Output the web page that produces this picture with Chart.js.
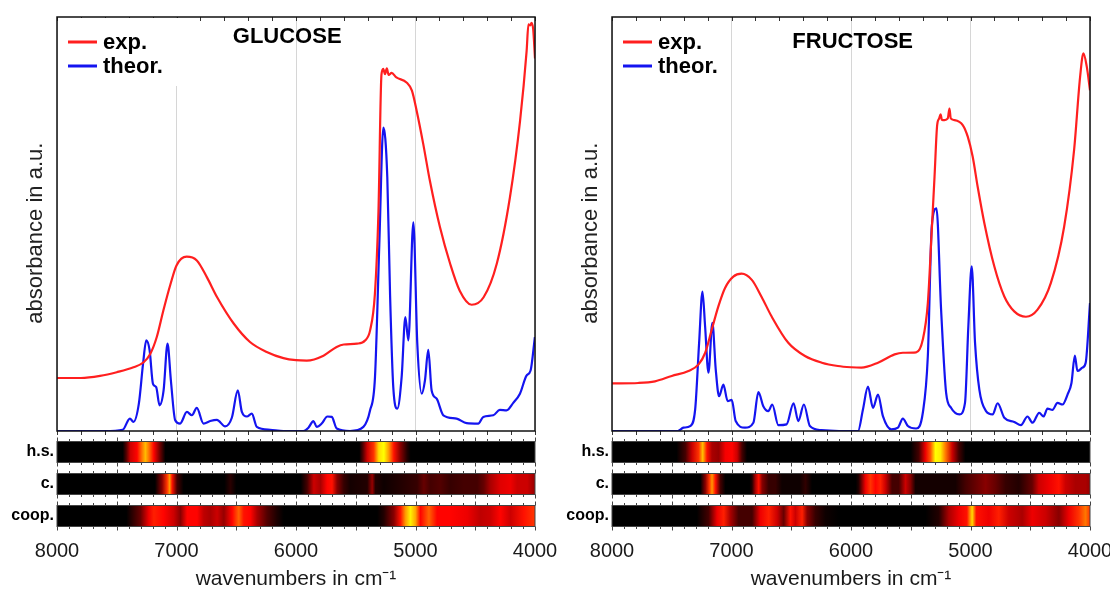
<!DOCTYPE html>
<html>
<head>
<meta charset="utf-8">
<script src="https://cdn.jsdelivr.net/npm/chart.js@4.4.0/dist/chart.umd.min.js"></script>
<style>
  body { margin: 0; background: #fff; width: 1110px; height: 594px; position: relative; overflow: hidden; }
  canvas { position: absolute; }
</style>
</head>
<body>
<canvas id="gluMain" width="545" height="440" style="left:0px;top:0px"></canvas>
<canvas id="gluHeat" width="562" height="159" style="left:0px;top:435px"></canvas>
<canvas id="fruMain" width="545" height="440" style="left:555px;top:0px"></canvas>
<canvas id="fruHeat" width="555" height="159" style="left:555px;top:435px"></canvas>
<script>
// ---- spectra (wavenumber in cm-1, absorbance in a.u.) ----
const gluExpWn  = [8000,7800,7640,7500,7360,7275,7220,7165,7110,7050,7000,6915,6830,6745,6660,6520,6385,6245,6105,6000,5910,5770,5660,5600,5490,5420,5380,5340,5310,5285,5270,5255,5240,5225,5200,5160,5075,5030,4990,4935,4880,4795,4710,4630,4530,4430,4320,4210,4125,4070,4055,4040,4029,4015,4000];
const gluExpAbs = [12.8,12.8,13.3,14.2,15.4,16.6,18.6,22.7,29.1,35.5,40,42.1,41.2,37.1,32.3,25.9,21.5,19.1,17.6,17.1,17.0,18.2,20.3,20.9,21.1,21.9,24.3,33,53,86,87.5,86.2,87.6,86,86.5,85.4,84.2,82.2,77.3,69.3,60.5,49.2,40.4,33.9,30.5,32.3,40.4,56.4,74.9,91.8,98.2,98,98.6,97,90];

const gluThWn  = [8000,7600,7450,7390,7360,7315,7280,7253,7225,7197,7170,7142,7108,7075,7047,7011,6970,6913,6871,6830,6774,6718,6662,6593,6537,6487,6453,6411,6370,6328,6216,6105,5938,5896,5854,5827,5785,5737,5701,5659,5548,5436,5380,5339,5303,5269,5236,5213,5186,5152,5116,5085,5060,5018,4985,4948,4921,4893,4865,4823,4767,4656,4572,4475,4433,4349,4294,4238,4182,4126,4071,4037,4001];
const gluThAbs = [0,0,0.3,3.0,2.2,6.6,16.2,21.9,19.5,11.4,10.6,6.2,9.8,21.1,12.2,2.6,1.8,4.6,3.8,5.6,1.8,2.4,2.7,1.1,3.2,9.8,4.6,3.5,4.2,1.0,0.3,0,0,0.8,2.4,1.0,1.8,3.5,3.4,0.6,0,1.0,5.0,13,45,73.3,61.3,33.1,10.6,5.4,13,27.5,21.9,50.4,21.1,9.0,12.2,19.6,9.8,7.8,3.8,3.0,1.9,1.8,3.4,3.8,5.1,5.0,6.8,9.0,13.4,14.6,22.7];

const fruExpWn  = [8000,7780,7640,7500,7360,7275,7220,7165,7110,7055,6985,6915,6830,6750,6665,6525,6385,6245,6110,6000,5913,5774,5635,5566,5455,5399,5357,5324,5301,5279,5262,5250,5240,5218,5190,5176,5165,5135,5065,5023,4982,4940,4884,4801,4717,4634,4536,4439,4328,4216,4133,4083,4055,4027,4000];
const fruExpAbs = [11.5,11.6,12.0,13.3,14.5,16.1,18.9,24.5,30.1,34.5,37.3,38.0,36.5,32.5,27.7,21.3,18.1,16.5,15.7,15.4,15.3,16.5,18.5,18.9,19.0,22.1,30.9,48.6,61.4,73.9,75.5,76.5,75.2,75.1,75.5,77.9,75.5,75.1,73.9,71.1,66.3,59.0,50.2,39.8,32.5,28.9,27.6,29.3,35.7,49.4,67.9,85.5,91.2,88,82.3];

const fruThWn  = [8000,7450,7402,7346,7304,7271,7243,7221,7193,7160,7132,7104,7068,7032,6998,6965,6887,6817,6775,6734,6692,6659,6608,6539,6481,6441,6394,6344,6247,6100,5941,5900,5858,5816,5774,5733,5663,5607,5566,5524,5455,5399,5357,5324,5285,5246,5204,5163,5093,5046,5018,4990,4962,4926,4870,4815,4773,4717,4634,4578,4523,4481,4425,4389,4356,4314,4272,4230,4188,4155,4127,4105,4064,4036,4000];
const fruThAbs = [0,0,0.8,1.2,5.2,21.3,33.7,25.3,14.1,26.1,14.9,8.4,11.2,7.2,7.5,2.4,0.8,2.0,9.4,6.0,4.8,6.4,1.4,1.6,6.7,2.4,6.4,1.2,0.2,0,0,5.2,10.7,5.6,8.8,3.6,0.4,0.8,3.0,1.2,0.6,4.4,18.1,49.4,53.8,29.3,9.2,5.6,4.0,6.8,25.3,39.8,21.3,10,4.8,4.0,6.7,3.2,2.2,1.4,3.5,2.0,4.4,3.5,5.4,5.1,6.8,6.4,8.8,11.6,18.2,14.5,15.3,16.5,30.9];

// ---- contribution strips (relative intensity 0..1) ----
const stripLabels = ['h.s.', 'c.', 'coop.'];
const stripRange = [4000, 8000];

const gluHsWn  = [8000,7450,7420,7386,7330,7288,7260,7232,7190,7135,7093,5470,5440,5404,5349,5307,5265,5223,5181,5126,5070,5040,4000];
const gluHsVal = [0,0,0.12,0.3,0.38,0.55,0.65,0.55,0.38,0.15,0,0,0.12,0.3,0.45,0.7,0.75,0.6,0.4,0.2,0.05,0,0];
const gluCWn   = [8000,7180,7121,7079,7057,7037,6995,6940,6600,6549,6500,5960,5907,5851,5795,5740,5698,5656,5600,5544,5404,5362,5335,5265,4986,4930,4874,4791,4707,4595,4484,4428,4372,4289,4205,4149,4065,4000];
const gluCVal  = [0,0,0.2,0.45,0.6,0.4,0.1,0,0,0.06,0,0,0.1,0.3,0.25,0.38,0.4,0.2,0.08,0.03,0.05,0.22,0.05,0.02,0.08,0.15,0.1,0.12,0.08,0.1,0.1,0.15,0.25,0.33,0.35,0.3,0.3,0.22];
const gluCoWn  = [8000,7420,7302,7232,7190,7107,7023,6967,6911,6828,6772,6716,6660,6604,6535,6479,6437,6381,6325,6242,6158,6102,5321,5265,5181,5126,5084,5042,5000,4958,4888,4819,4707,4567,4456,4372,4289,4205,4093,4009,4000];
const gluCoVal = [0,0,0.15,0.35,0.42,0.38,0.3,0.2,0.38,0.38,0.28,0.25,0.3,0.22,0.38,0.52,0.4,0.38,0.25,0.12,0.04,0,0,0.05,0.2,0.4,0.6,0.73,0.62,0.38,0.52,0.38,0.38,0.35,0.28,0.3,0.38,0.3,0.4,0.45,0.45];

const fruHsWn  = [8000,7460,7386,7330,7274,7241,7205,7163,7107,7051,6995,6953,6912,6870,5500,5432,5377,5335,5293,5251,5209,5153,5098,5042,4000];
const fruHsVal = [0,0,0.1,0.3,0.45,0.66,0.4,0.25,0.22,0.36,0.38,0.3,0.1,0,0,0.1,0.35,0.5,0.75,0.72,0.55,0.3,0.1,0,0];
const fruCWn   = [8000,7260,7219,7185,7163,7135,7093,7051,6850,6828,6800,6772,6744,6688,6632,6577,6430,6381,6325,5960,5935,5879,5837,5795,5754,5712,5656,5600,5544,5502,5460,5126,5042,4958,4874,4791,4707,4595,4484,4428,4344,4260,4205,4121,4037,4000];
const fruCVal  = [0,0,0.2,0.45,0.6,0.4,0.1,0,0,0.05,0.25,0.4,0.2,0.08,0.08,0.02,0.02,0.07,0,0,0.05,0.35,0.45,0.38,0.42,0.3,0.1,0.1,0.3,0.2,0.03,0.03,0.1,0.15,0.2,0.15,0.08,0.05,0.15,0.3,0.35,0.4,0.3,0.25,0.25,0.22];
const fruCoWn  = [8000,7290,7191,7121,7065,7009,6940,6828,6758,6688,6618,6563,6507,6465,6409,6367,6298,6214,6102,5377,5265,5181,5098,5030,4986,4952,4846,4763,4679,4567,4484,4372,4260,4177,4093,4037,4000];
const fruCoVal = [0,0,0.1,0.35,0.42,0.25,0.1,0.1,0.35,0.42,0.3,0.15,0.4,0.3,0.42,0.2,0.08,0.02,0,0,0.05,0.25,0.35,0.4,0.7,0.4,0.35,0.42,0.3,0.25,0.35,0.3,0.2,0.35,0.45,0.55,0.45];

const FONT = '"Liberation Sans", Arial, sans-serif';
Chart.defaults.font.family = FONT;

function pairs(xs, ys) {
    return xs.map((x, i) => ({ x: x, y: ys[i] }));
}

// matlab-like "hot" colour map
function hot(v) {
    const r = Math.min(1, v / 0.375);
    const g = Math.min(1, Math.max(0, (v - 0.375) / 0.375));
    const b = Math.min(1, Math.max(0, (v - 0.75) / 0.25));
    return `rgb(${Math.round(r * 255)},${Math.round(g * 255)},${Math.round(b * 255)})`;
}

// box around the plot with small ticks every 200 cm-1
const framePlugin = {
    id: 'frame',
    afterDraw(chart) {
        const { ctx, chartArea: a, scales: { x } } = chart;
        ctx.save();
        ctx.strokeStyle = '#333';
        ctx.lineWidth = 1;
        for (let wn = 4000; wn <= 8000; wn += 200) {
            const px = Math.round(x.getPixelForValue(wn)) + 0.5;
            ctx.beginPath();
            ctx.moveTo(px, a.top); ctx.lineTo(px, a.top + 4);
            ctx.moveTo(px, a.bottom); ctx.lineTo(px, a.bottom + 4);
            ctx.stroke();
        }
        ctx.strokeStyle = '#111';
        ctx.lineWidth = 1.5;
        ctx.strokeRect(a.left, a.top, a.right - a.left, a.bottom - a.top);
        ctx.restore();
    }
};

// legend + sugar name drawn inside the plot box
const insidePlugin = {
    id: 'inside',
    afterDraw(chart, args, opts) {
        const { ctx, chartArea: a, scales: { x } } = chart;
        ctx.save();
        if (opts.legendBg) {
            ctx.fillStyle = '#fff';
            ctx.fillRect(a.left + 1, a.top + 1, 125, 68);
        }
        ctx.font = `bold 22px ${FONT}`;
        ctx.textBaseline = 'middle';
        chart.data.datasets.forEach((ds, i) => {
            const y = a.top + 25 + i * 24;
            ctx.strokeStyle = ds.borderColor;
            ctx.lineWidth = 3;
            ctx.beginPath();
            ctx.moveTo(a.left + 11, y);
            ctx.lineTo(a.left + 40, y);
            ctx.stroke();
            ctx.fillStyle = '#000';
            ctx.textAlign = 'left';
            ctx.fillText(ds.label, a.left + 46, y + 1);
        });
        ctx.textAlign = 'center';
        ctx.fillText(opts.name, x.getPixelForValue(opts.nameWn), a.top + opts.nameDy);
        ctx.restore();
    }
};

// little ticks along the top and bottom edge of every strip
const stripPlugin = {
    id: 'stripTicks',
    afterDatasetsDraw(chart) {
        const { ctx, scales: { x } } = chart;
        const meta = chart.getDatasetMeta(0);
        ctx.save();
        ctx.strokeStyle = '#444';
        ctx.lineWidth = 1;
        meta.data.forEach(bar => {
            const { y, height } = bar.getProps(['y', 'height'], true);
            const top = y - height / 2, bottom = y + height / 2;
            for (let wn = 4000; wn <= 8000; wn += 100) {
                const len = wn % 500 === 0 ? 4 : 2.5;
                const px = Math.round(x.getPixelForValue(wn)) + 0.5;
                ctx.beginPath();
                ctx.moveTo(px, top); ctx.lineTo(px, top - len);
                ctx.moveTo(px, bottom); ctx.lineTo(px, bottom + len);
                ctx.stroke();
            }
            ctx.strokeRect(x.left, top, x.right - x.left, height);
        });
        ctx.restore();
    }
};

// fixed axis boxes so both charts of a panel share the same x pixels
function fixX(h) {
    return s => { s.height = h; s.paddingLeft = 0; s.paddingRight = 0; };
}
function fixY(w) {
    return s => { s.width = w; s.paddingTop = 0; s.paddingBottom = 0; };
}

function mainChart(id, name, nameWn, nameDy, legendBg, expWn, expAbs, thWn, thAbs) {
    return new Chart(document.getElementById(id), {
        type: 'line',
        data: {
            datasets: [
                { label: 'exp.', data: pairs(expWn, expAbs), borderColor: '#ff1f1f', borderWidth: 2.2, pointRadius: 0, cubicInterpolationMode: 'monotone' },
                { label: 'theor.', data: pairs(thWn, thAbs), borderColor: '#1414f0', borderWidth: 2.2, pointRadius: 0, cubicInterpolationMode: 'monotone' }
            ]
        },
        options: {
            responsive: false,
            animation: false,
            events: [],
            layout: { autoPadding: false, padding: { top: 17, right: 10, bottom: 9, left: 0 } },
            scales: {
                x: {
                    type: 'linear', min: 4000, max: 8000, reverse: true,
                    afterFit: fixX(0),
                    ticks: { display: false, stepSize: 1000 },
                    grid: { color: '#d6d6d6', drawTicks: false },
                    border: { display: false }
                },
                y: {
                    min: 0, max: 100,
                    afterFit: fixY(57),
                    ticks: { display: false },
                    grid: { display: false, drawTicks: false },
                    border: { display: false },
                    title: {
                        display: true, text: 'absorbance in a.u.   ', color: '#222',
                        font: { size: 22 }, padding: { top: 23, bottom: 0 }
                    }
                }
            },
            plugins: {
                legend: { display: false },
                tooltip: { enabled: false },
                inside: { name: name, nameWn: nameWn, nameDy: nameDy, legendBg: legendBg }
            }
        },
        plugins: [framePlugin, insidePlugin]
    });
}

function heatChart(id, rows, padRight) {
    return new Chart(document.getElementById(id), {
        type: 'bar',
        data: {
            labels: stripLabels,
            datasets: [{
                data: stripLabels.map(() => stripRange),
                barThickness: 21,
                borderWidth: 0,
                backgroundColor: c => {
                    const chart = c.chart;
                    const x = chart.scales.x;
                    if (!chart.chartArea || !x) return '#000';
                    const row = rows[c.dataIndex];
                    const g = chart.ctx.createLinearGradient(x.left, 0, x.right, 0);
                    row.wn.forEach((wn, i) => {
                        const t = (x.getPixelForValue(wn) - x.left) / (x.right - x.left);
                        g.addColorStop(Math.min(1, Math.max(0, t)), hot(row.val[i]));
                    });
                    return g;
                }
            }]
        },
        options: {
            indexAxis: 'y',
            responsive: false,
            animation: false,
            events: [],
            layout: { autoPadding: false, padding: { top: 1, right: padRight, bottom: 0, left: 0 } },
            scales: {
                x: {
                    type: 'linear', min: 4000, max: 8000, reverse: true,
                    afterFit: fixX(62),
                    ticks: { stepSize: 1000, color: '#1a1a1a', font: { size: 20 }, padding: 7, callback: v => String(v) },
                    grid: { display: false, drawTicks: false },
                    border: { display: false },
                    title: {
                        display: true, text: 'wavenumbers in cm\u207B\u00B9', color: '#1a1a1a',
                        font: { size: 21 }, padding: { top: 0, bottom: 2 }
                    }
                },
                y: {
                    afterFit: fixY(57),
                    ticks: { color: '#000', font: { size: 16, weight: 'bold' }, padding: 3 },
                    grid: { display: false, drawTicks: false },
                    border: { display: false }
                }
            },
            plugins: { legend: { display: false }, tooltip: { enabled: false } }
        },
        plugins: [stripPlugin]
    });
}

window.onload = () => {
    mainChart('gluMain', 'GLUCOSE', 6074, 20, true, gluExpWn, gluExpAbs, gluThWn, gluThAbs);
    mainChart('fruMain', 'FRUCTOSE', 5986, 25, false, fruExpWn, fruExpAbs, fruThWn, fruThAbs);
    heatChart('gluHeat', [
        { wn: gluHsWn, val: gluHsVal },
        { wn: gluCWn, val: gluCVal },
        { wn: gluCoWn, val: gluCoVal }
    ], 27);
    heatChart('fruHeat', [
        { wn: fruHsWn, val: fruHsVal },
        { wn: fruCWn, val: fruCVal },
        { wn: fruCoWn, val: fruCoVal }
    ], 20);
};
</script>
</body>
</html>
